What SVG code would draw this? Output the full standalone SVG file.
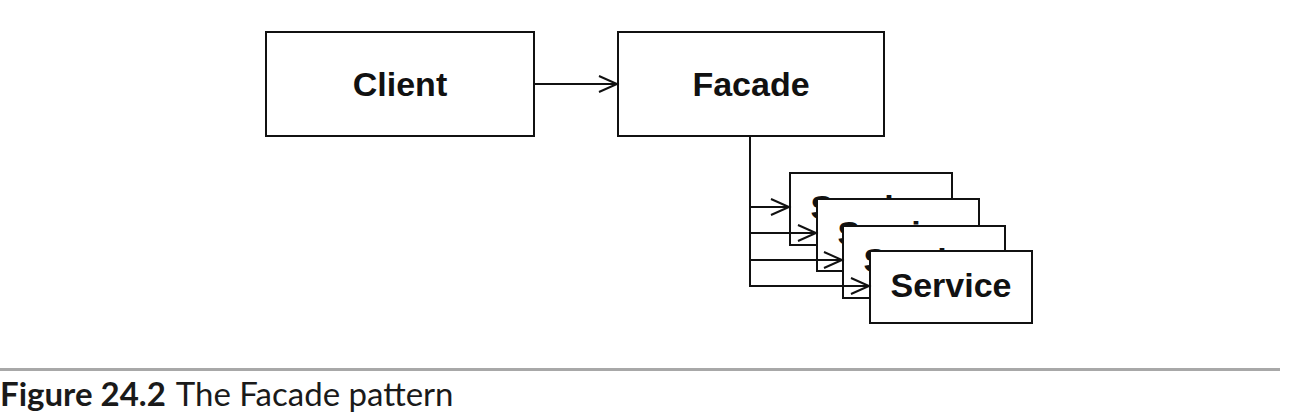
<svg xmlns="http://www.w3.org/2000/svg" width="1314" height="418" viewBox="0 0 1314 418">
<style>
.box{fill:#fff;stroke:#111;stroke-width:2}
.lbl{font-family:"Liberation Sans",Arial,sans-serif;font-weight:bold;font-size:34px;fill:#111;text-anchor:middle}
.con{fill:none;stroke:#111;stroke-width:2}
.cap{font-family:Lato,"Open Sans",sans-serif;font-size:33px;fill:#1a1a1a}
</style>
<defs>
<marker id="open" markerUnits="userSpaceOnUse" markerWidth="22" markerHeight="20" refX="19" refY="9" orient="auto">
<path d="M1,1 L19,9 L1,17" fill="none" stroke="#111" stroke-width="2"/>
</marker>
</defs>
<rect width="1314" height="418" fill="#fff"/>
<g id="client"><rect class="box" x="266" y="32" width="268" height="104"/><text class="lbl" x="400" y="96">Client</text></g>
<g id="facade"><rect class="box" x="618" y="32" width="266" height="104"/><text class="lbl" x="751" y="96">Facade</text></g>
<g id="service1"><rect class="box" x="790" y="173" width="162" height="72"/><text class="lbl" x="871" y="219">Service</text></g>
<g id="service2"><rect class="box" x="817" y="199" width="162" height="72"/><text class="lbl" x="898" y="245">Service</text></g>
<g id="service3"><rect class="box" x="843" y="226" width="162" height="72"/><text class="lbl" x="924" y="272">Service</text></g>
<g id="service4"><rect class="box" x="870" y="251" width="162" height="72"/><text class="lbl" x="951" y="297">Service</text></g>
<g id="connectors">
<line class="con" x1="534" y1="84" x2="617" y2="84" marker-end="url(#open)"/>
<line class="con" x1="750" y1="136" x2="750" y2="287"/>
<line class="con" x1="749" y1="207" x2="789" y2="207" marker-end="url(#open)"/>
<line class="con" x1="749" y1="233" x2="816" y2="233" marker-end="url(#open)"/>
<line class="con" x1="749" y1="260" x2="842" y2="260" marker-end="url(#open)"/>
<line class="con" x1="749" y1="286" x2="869" y2="286" marker-end="url(#open)"/>
</g>
<g id="caption">
<rect x="0" y="368" width="1280" height="3" fill="#a8a8a8"/>
<text class="cap" x="0" y="406"><tspan font-weight="bold">Figure 24.2</tspan><tspan dx="10">The Facade pattern</tspan></text>
</g>
</svg>
